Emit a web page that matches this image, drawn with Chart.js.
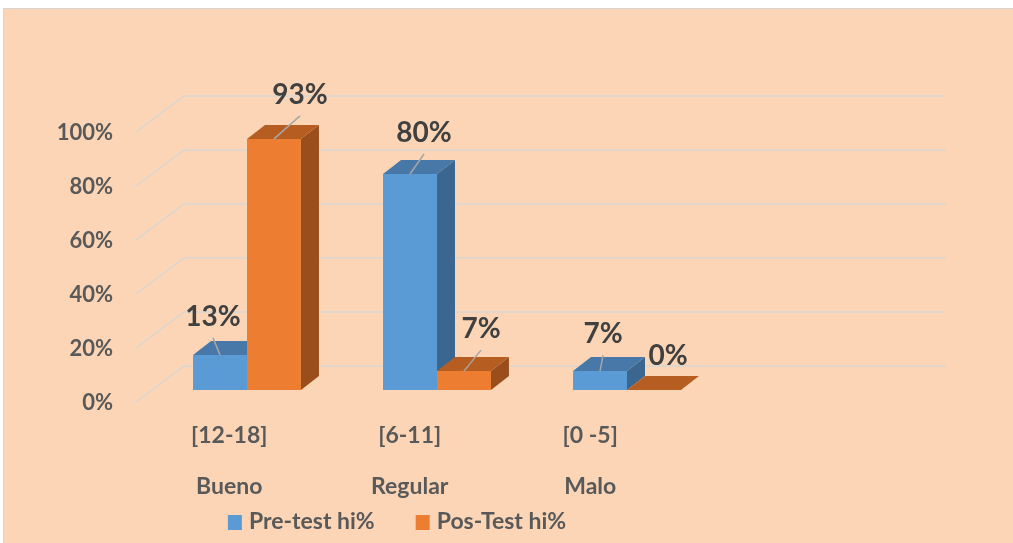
<!DOCTYPE html>
<html>
<head>
<meta charset="utf-8">
<script src="https://cdn.jsdelivr.net/npm/chart.js@4.4.1/dist/chart.umd.min.js"></script>
<style>
  html, body { margin: 0; padding: 0; background: #ffffff; }
  #frame { position: absolute; left: 3px; top: 8px; width: 1010px; height: 535px; background: #fbd5b5; border-top: 1px solid #d6d3d0; border-left: 1px solid #d6d3d0; }
  #wrap { position: absolute; left: 0; top: 0; width: 1013px; height: 543px; }
</style>
</head>
<body>
<div id="frame"></div>
<div id="wrap"><canvas id="chart"></canvas></div>
<script>
  // data
  var ranges = ["[12-18]", "[6-11]", "[0 -5]", ""];
  var levels = ["Bueno", "Regular", "Malo", ""];
  var preTest = [13, 80, 7, null];
  var posTest = [93, 7, 0, null];
  var yTicks = [0, 20, 40, 60, 80, 100];

  // where each data label sits, relative to the top of its bar
  var preNudge = [[-7, -38], [14, -41], [3, -37]];
  var posNudge = [[26, -44], [17, -42], [14, -34]];

  var FONT = "Lato, 'Open Sans', sans-serif";
  var depthX = 18, depthY = -14;

  var faces = [
    { top: "#4878a8", side: "#3b6690" },
    { top: "#b65e22", side: "#9a4e1c" }
  ];

  function poly(ctx, pts, color) {
    ctx.beginPath();
    ctx.moveTo(pts[0][0], pts[0][1]);
    for (var i = 1; i < pts.length; i++) ctx.lineTo(pts[i][0], pts[i][1]);
    ctx.closePath();
    ctx.fillStyle = color;
    ctx.fill();
  }

  var bars3d = {
    id: "bars3d",
    beforeDraw: function (chart) {
      var ctx = chart.ctx, area = chart.chartArea, y = chart.scales.y;
      ctx.save();
      ctx.strokeStyle = "#d9d6d2";
      ctx.lineWidth = 1.5;
      yTicks.forEach(function (v) {
        var py = y.getPixelForValue(v);
        ctx.beginPath();
        ctx.moveTo(area.left - 16, py + 12);
        ctx.lineTo(area.left + 32, py - 24);
        ctx.lineTo(area.right + 34, py - 24);
        ctx.stroke();
      });
      ctx.restore();
    },
    beforeDatasetsDraw: function (chart) {
      var ctx = chart.ctx;
      ctx.save();
      var n = chart.data.labels.length;
      for (var i = 0; i < n; i++) {
        chart.data.datasets.forEach(function (ds, d) {
          if (ds.data[i] === null) return;
          var bar = chart.getDatasetMeta(d).data[i];
          var l = bar.x - bar.width / 2, r = bar.x + bar.width / 2;
          var t = bar.y, b = bar.base;
          poly(ctx, [[r, t], [r + depthX, t + depthY], [r + depthX, b + depthY], [r, b]], faces[d].side);
          poly(ctx, [[l, t], [r, t], [r + depthX, t + depthY], [l + depthX, t + depthY]], faces[d].top);
        });
      }
      ctx.restore();
    },
    afterDatasetsDraw: function (chart) {
      var ctx = chart.ctx;
      var nudges = [preNudge, posNudge];
      ctx.save();
      ctx.font = "bold 28px " + FONT;
      ctx.textAlign = "center";
      ctx.textBaseline = "middle";
      chart.data.datasets.forEach(function (ds, d) {
        ds.data.forEach(function (v, i) {
          if (v === null) return;
          var bar = chart.getDatasetMeta(d).data[i];
          var lx = bar.x + nudges[d][i][0], ly = bar.y + nudges[d][i][1];
          if (v > 0) {
            ctx.strokeStyle = "#a6a6a6";
            ctx.lineWidth = 1.5;
            ctx.beginPath();
            ctx.moveTo(lx, ly + 21);
            ctx.lineTo(bar.x, bar.y);
            ctx.stroke();
          }
          ctx.fillStyle = "#404040";
          ctx.fillText(v + "%", lx, ly);
        });
      });
      ctx.restore();
    },
    afterDraw: function (chart) {
      var ctx = chart.ctx, area = chart.chartArea, x = chart.scales.x;
      ctx.save();
      ctx.font = "bold 23px " + FONT;
      ctx.fillStyle = "#595959";
      ctx.textAlign = "center";
      ctx.textBaseline = "middle";
      // category labels sit on the front floor edge, pulled a little toward the left
      ranges.forEach(function (lab, i) {
        if (!lab) return;
        var cx = area.left + (x.getPixelForValue(i) - area.left) * 0.95 - 13;
        ctx.fillText(lab, cx, area.bottom + 46);
        ctx.fillText(levels[i], cx, area.bottom + 97);
      });

      // legend
      var items = chart.data.datasets.map(function (ds) {
        return { text: ds.label, color: ds.backgroundColor, w: 21 + ctx.measureText(ds.label).width };
      });
      var gap = 41;
      var total = items.reduce(function (s, it) { return s + it.w; }, 0) + gap * (items.length - 1);
      var lx = 397 - total / 2, ly = area.bottom + 132;
      ctx.textAlign = "left";
      items.forEach(function (it) {
        ctx.fillStyle = it.color;
        ctx.fillRect(lx, ly - 7, 14, 15);
        ctx.fillStyle = "#595959";
        ctx.fillText(it.text, lx + 21, ly);
        lx += it.w + gap;
      });
      ctx.restore();
    }
  };

  new Chart(document.getElementById("chart"), {
    type: "bar",
    data: {
      labels: ranges,
      datasets: [
        { label: "Pre-test hi%", data: preTest, backgroundColor: "#5b9bd5" },
        { label: "Pos-Test hi%", data: posTest, backgroundColor: "#ed7d31" }
      ]
    },
    options: {
      responsive: true,
      maintainAspectRatio: false,
      animation: false,
      layout: { padding: { left: 40, top: 120, right: 101, bottom: 0 } },
      datasets: { bar: { barPercentage: 1, categoryPercentage: 0.568 } },
      plugins: { legend: { display: false }, tooltip: { enabled: false } },
      scales: {
        x: {
          ticks: { display: false },
          grid: { display: false, drawTicks: false },
          border: { display: false },
          afterFit: function (s) { s.height = 153; }
        },
        y: {
          min: 0,
          max: 100,
          ticks: {
            stepSize: 20,
            padding: 39,
            labelOffset: 13,
            color: "#595959",
            font: { family: FONT, size: 22, weight: "bold" },
            callback: function (v) { return v + "%"; }
          },
          grid: { display: false, drawTicks: false },
          border: { display: false },
          afterFit: function (s) { s.width = 112; }
        }
      }
    },
    plugins: [bars3d]
  });
</script>
</body>
</html>
